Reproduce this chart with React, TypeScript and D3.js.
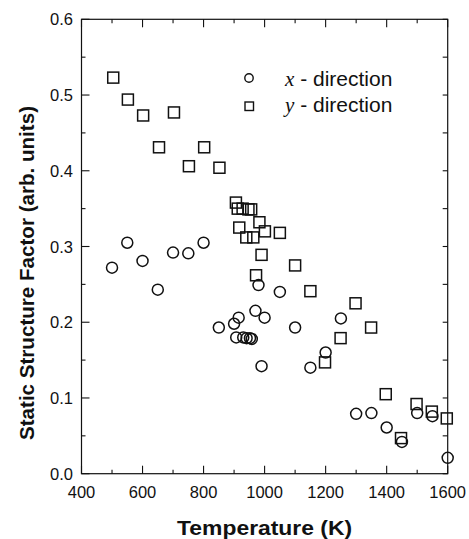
import * as d3 from 'd3';
import React from 'react';

// x-direction (circles)
const xDirT = [500, 550, 600, 650, 700, 750, 800, 850, 900, 915, 907, 930, 941, 952, 958, 970, 980, 1000, 990, 1050, 1100, 1150, 1200, 1250, 1300, 1350, 1400, 1450, 1500, 1550, 1600];
const xDirS = [0.272, 0.305, 0.281, 0.243, 0.292, 0.291, 0.305, 0.193, 0.198, 0.206, 0.18, 0.18, 0.179, 0.179, 0.178, 0.215, 0.249, 0.206, 0.142, 0.24, 0.193, 0.14, 0.16, 0.205, 0.079, 0.08, 0.061, 0.042, 0.08, 0.076, 0.021];

// y-direction (squares)
const yDirT = [504, 552, 602, 654, 703, 752, 802, 852, 906, 912, 917, 928, 947, 956, 940, 963, 972, 983, 990, 1001, 1050, 1100, 1150, 1198, 1249, 1298, 1349, 1397, 1447, 1498, 1548, 1597];
const yDirS = [0.523, 0.494, 0.473, 0.431, 0.477, 0.406, 0.431, 0.404, 0.358, 0.35, 0.325, 0.35, 0.349, 0.349, 0.312, 0.312, 0.262, 0.332, 0.289, 0.32, 0.318, 0.275, 0.241, 0.147, 0.179, 0.225, 0.193, 0.105, 0.047, 0.092, 0.082, 0.073];

const xTicks = [400, 600, 800, 1000, 1200, 1400, 1600];
const xMinor = [500, 700, 900, 1100, 1300, 1500];
const yTicks = [0.0, 0.1, 0.2, 0.3, 0.4, 0.5, 0.6];
const yMinor = [0.05, 0.15, 0.25, 0.35, 0.45, 0.55];

const W = 469;
const H = 539;
const left = 81.5;
const right = 447.7;
const top = 19.3;
const bottom = 473.7;
const ink = '#111';
const font = '"Liberation Sans", Arial, Helvetica, sans-serif';
const serif = '"Liberation Serif", "Times New Roman", serif';

export default function App() {
  const x = d3.scaleLinear().domain([400, 1600]).range([left, right]);
  const y = d3.scaleLinear().domain([0, 0.6]).range([bottom, top]);
  const half = 5.5;

  return (
    <svg width={W} height={H} style={{ position: 'absolute', left: 0, top: 0, background: '#fff' }} fontFamily={font}>
      <rect x={left} y={top} width={right - left} height={bottom - top} fill="none" stroke={ink} strokeWidth={1.2} />

      {/* x ticks, inward on bottom and top */}
      {xTicks.map((t) => (
        <g key={'xt' + t}>
          <line x1={x(t)} x2={x(t)} y1={bottom} y2={bottom - 8} stroke={ink} strokeWidth={1.1} />
          <line x1={x(t)} x2={x(t)} y1={top} y2={top + 8} stroke={ink} strokeWidth={1.1} />
          <text x={x(t)} y={498} textAnchor="middle" fontSize={16.5} fill={ink}>
            {t}
          </text>
        </g>
      ))}
      {xMinor.map((t) => (
        <g key={'xm' + t}>
          <line x1={x(t)} x2={x(t)} y1={bottom} y2={bottom - 4} stroke={ink} strokeWidth={1.1} />
          <line x1={x(t)} x2={x(t)} y1={top} y2={top + 4} stroke={ink} strokeWidth={1.1} />
        </g>
      ))}

      {/* y ticks, inward on left and right */}
      {yTicks.map((t) => (
        <g key={'yt' + t}>
          <line x1={left} x2={left + 8} y1={y(t)} y2={y(t)} stroke={ink} strokeWidth={1.1} />
          <line x1={right} x2={right - 5} y1={y(t)} y2={y(t)} stroke={ink} strokeWidth={1.1} />
          <text x={73} y={y(t) + 6} textAnchor="end" fontSize={16.5} fill={ink}>
            {t.toFixed(1)}
          </text>
        </g>
      ))}
      {yMinor.map((t) => (
        <g key={'ym' + t}>
          <line x1={left} x2={left + 4} y1={y(t)} y2={y(t)} stroke={ink} strokeWidth={1.1} />
          <line x1={right} x2={right - 5} y1={y(t)} y2={y(t)} stroke={ink} strokeWidth={1.1} />
        </g>
      ))}

      {/* data */}
      {yDirT.map((t, i) => (
        <rect key={'s' + i} x={x(t) - half} y={y(yDirS[i]) - half} width={half * 2} height={half * 2} fill="none" stroke={ink} strokeWidth={1.5} />
      ))}
      {xDirT.map((t, i) => (
        <circle key={'c' + i} cx={x(t)} cy={y(xDirS[i])} r={half} fill="none" stroke={ink} strokeWidth={1.5} />
      ))}

      {/* legend */}
      <circle cx={249} cy={78} r={4.2} fill="none" stroke={ink} strokeWidth={1.4} />
      <rect x={245} y={102} width={8.5} height={8.5} fill="none" stroke={ink} strokeWidth={1.4} />
      <text x={285} y={86} fontSize={21} fill={ink}>
        <tspan fontFamily={serif} fontStyle="italic">x</tspan>
        <tspan> - direction</tspan>
      </text>
      <text x={285} y={112} fontSize={21} fill={ink}>
        <tspan fontFamily={serif} fontStyle="italic">y</tspan>
        <tspan> - direction</tspan>
      </text>

      {/* axis titles */}
      <text x={264.6} y={535} textAnchor="middle" fontSize={20} fontWeight="bold" fill={ink} textLength={175} lengthAdjust="spacingAndGlyphs">
        Temperature (K)
      </text>
      <text
        transform={`translate(34, 273) rotate(-90)`}
        textAnchor="middle"
        fontSize={20}
        fontWeight="bold"
        fill={ink}
        textLength={334}
        lengthAdjust="spacingAndGlyphs"
      >
        Static Structure Factor (arb. units)
      </text>
    </svg>
  );
}
